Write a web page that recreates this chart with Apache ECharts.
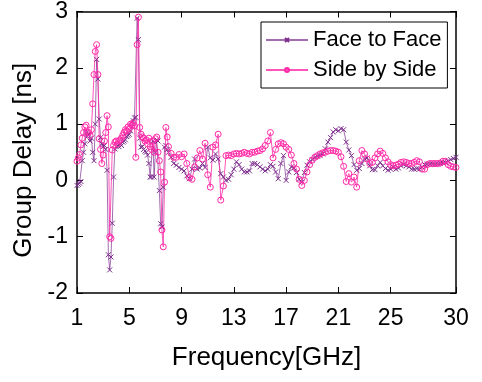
<!DOCTYPE html>
<html>
<head>
<meta charset="utf-8">
<script src="https://cdn.jsdelivr.net/npm/echarts@6/dist/echarts.min.js"></script>
<style>
  html, body { margin: 0; padding: 0; background: #fff; }
  #chart { width: 482px; height: 382px; }
</style>
</head>
<body>
<div id="chart"></div>
<script>
// frequency samples (GHz)
var freq = [1.0,1.1,1.2,1.3,1.4,1.5,1.6,1.7,1.8,1.9,2.0,2.1,2.2,2.3,2.4,2.5,2.6,2.7,2.8,2.9,
  3.0,3.1,3.2,3.3,3.4,3.5,3.6,3.7,3.8,3.9,4.0,4.1,4.2,4.3,4.4,4.5,4.6,4.7,4.8,4.9,
  5.0,5.1,5.2,5.3,5.4,5.5,5.6,5.7,5.8,5.9,6.0,6.1,6.2,6.3,6.4,6.5,6.6,6.7,6.8,6.9,
  7.0,7.1,7.2,7.3,7.4,7.5,7.6,7.7,7.8,7.9,8.0,
  8.2,8.4,8.6,8.8,9.0,9.2,9.4,9.6,9.8,10.0,10.2,10.4,10.6,10.8,11.0,11.2,11.4,11.6,11.8,12.0,
  12.2,12.4,12.6,12.8,13.0,13.2,13.4,13.6,13.8,14.0,14.2,14.4,14.6,14.8,15.0,15.2,15.4,15.6,15.8,16.0,
  16.2,16.4,16.6,16.8,17.0,17.2,17.4,17.6,17.8,18.0,18.2,18.4,18.6,18.8,19.0,19.2,19.4,19.6,19.8,20.0,
  20.2,20.4,20.6,20.8,21.0,21.2,21.4,21.6,21.8,22.0,22.2,22.4,22.6,22.8,23.0,23.2,23.4,23.6,23.8,24.0,
  24.2,24.4,24.6,24.8,25.0,25.2,25.4,25.6,25.8,26.0,26.2,26.4,26.6,26.8,27.0,27.2,27.4,27.6,27.8,28.0,
  28.2,28.4,28.6,28.8,29.0,29.2,29.4,29.6,29.8,30.0];

// group delay (ns) - face to face
var faceToFace = [-0.09,-0.07,-0.05,-0.02,0.35,0.5,0.65,0.85,0.78,0.82,0.7,0.75,0.5,0.35,1.0,2.15,1.8,1.09,0.76,0.65,
  0.6,0.62,0.55,0.18,-1.32,-1.59,-1.36,-0.76,0.06,0.56,0.6,0.62,0.6,0.65,0.62,0.68,0.7,0.72,0.78,0.8,
  0.82,0.88,0.95,1.06,1.11,1.12,2.88,2.5,0.75,0.59,0.6,0.55,0.52,0.5,0.45,0.3,0.06,0.06,0.7,0.06,
  0.5,0.72,0.7,-0.18,-0.77,-0.83,-0.12,0.59,0.62,0.55,0.5,
  0.41,0.3,0.27,0.23,0.2,0.17,0.08,0.03,0.2,0.38,0.2,0.22,0.3,0.23,0.59,0.4,0.36,0.47,0.38,0.12,
  0.06,0.0,0.02,0.1,0.2,0.33,0.28,0.2,0.15,0.15,0.17,0.3,0.3,0.28,0.24,0.2,0.17,0.2,0.28,0.25,
  0.15,0.03,0.3,0.44,0.0,0.15,0.24,0.22,0.14,0.02,-0.03,0.14,0.27,0.33,0.37,0.41,0.43,0.44,0.47,0.56,
  0.68,0.76,0.86,0.9,0.88,0.92,0.9,0.68,0.54,0.44,0.28,0.18,0.21,0.3,0.38,0.4,0.26,0.19,0.19,0.26,
  0.32,0.26,0.21,0.18,0.2,0.23,0.2,0.22,0.26,0.28,0.26,0.24,0.2,0.2,0.21,0.2,0.24,0.28,0.29,0.29,
  0.29,0.28,0.29,0.3,0.31,0.32,0.34,0.37,0.39,0.41];

// group delay (ns) - side by side
var sideBySide = [0.34,0.4,0.46,0.63,0.75,0.85,0.95,0.98,0.85,0.85,0.8,0.9,1.36,1.88,2.29,2.41,1.88,0.74,0.55,0.3,
  0.45,0.7,0.85,1.15,0.95,-1.0,-1.03,0.54,0.62,0.68,0.7,0.65,0.7,0.72,0.75,0.8,0.85,0.9,0.88,0.95,
  0.92,1.0,0.98,1.02,0.97,0.41,2.41,2.9,0.94,0.82,0.77,0.75,0.7,0.72,0.65,0.75,0.6,0.55,0.7,0.5,
  0.74,0.77,0.5,0.35,0.15,-0.88,-1.18,-0.03,0.94,0.77,0.6,
  0.48,0.41,0.41,0.46,0.42,0.47,0.3,0.05,0.02,0.24,0.4,0.53,0.38,0.66,0.1,-0.12,0.59,0.63,0.82,-0.35,
  -0.1,0.44,0.45,0.44,0.47,0.48,0.47,0.48,0.5,0.48,0.47,0.5,0.5,0.52,0.53,0.56,0.62,0.7,0.85,0.4,
  0.55,0.65,0.67,0.65,0.59,0.55,0.45,0.3,0.2,0.02,-0.09,0.0,0.15,0.28,0.36,0.41,0.44,0.47,0.49,0.5,
  0.52,0.53,0.53,0.52,0.5,0.42,0.25,-0.02,0.12,-0.03,0.06,-0.12,0.35,0.53,0.47,0.38,0.3,0.32,0.4,0.47,
  0.52,0.48,0.4,0.33,0.28,0.26,0.27,0.29,0.32,0.33,0.32,0.3,0.3,0.32,0.35,0.33,0.2,0.2,0.28,0.3,
  0.3,0.3,0.3,0.31,0.34,0.34,0.28,0.25,0.24,0.23];

var xTicks = [1, 5, 9, 13, 17, 21, 25, 30];

function pairs(ys) {
  return freq.map(function (f, i) { return [f, ys[i]]; });
}

var purple = '#7E2F8E';
var pink = '#FF2AA8';
var font = 'Liberation Sans, Arial, sans-serif';

var chart = echarts.init(document.getElementById('chart'));
chart.setOption({
  animation: false,
  backgroundColor: '#fff',
  grid: { left: 77, right: 26, top: 10, bottom: 89 },
  legend: {
    orient: 'vertical',
    left: 261,
    top: 22,
    padding: [7, 6, 7, 4],
    itemGap: 8,
    itemWidth: 42,
    itemHeight: 5,
    backgroundColor: '#fff',
    borderColor: '#000',
    borderWidth: 1,
    borderRadius: 0,
    textStyle: { fontFamily: font, fontSize: 22, color: '#000' },
    data: ['Face to Face', 'Side by Side']
  },
  xAxis: [{
    type: 'value',
    min: 1,
    max: 30,
    name: 'Frequency[GHz]',
    nameLocation: 'middle',
    nameGap: 52,
    nameTextStyle: { fontFamily: font, fontSize: 26, color: '#000' },
    axisLine: { onZero: false, lineStyle: { color: '#000', width: 1.5 } },
    axisTick: { inside: true, length: 6, customValues: xTicks, lineStyle: { color: '#000' } },
    axisLabel: { customValues: xTicks, margin: 14, fontFamily: font, fontSize: 23, color: '#000' },
    splitLine: { show: false }
  }, {
    type: 'value',
    position: 'top',
    min: 1,
    max: 30,
    axisLine: { onZero: false, lineStyle: { color: '#000', width: 1.5 } },
    axisTick: { inside: true, length: 6, customValues: xTicks, lineStyle: { color: '#000' } },
    axisLabel: { show: false },
    splitLine: { show: false }
  }],
  yAxis: [{
    type: 'value',
    min: -2,
    max: 3,
    interval: 1,
    name: 'Group Delay [ns]',
    nameLocation: 'middle',
    nameGap: 31,
    nameTextStyle: { fontFamily: font, fontSize: 26, color: '#000', padding: [0, 16, 0, 0] },
    axisLine: { show: true, onZero: false, lineStyle: { color: '#000', width: 1.5 } },
    axisTick: { show: true, inside: true, length: 6, lineStyle: { color: '#000' } },
    axisLabel: { margin: 9, fontFamily: font, fontSize: 23, color: '#000' },
    splitLine: { show: false }
  }, {
    type: 'value',
    position: 'right',
    min: -2,
    max: 3,
    interval: 1,
    axisLine: { show: true, onZero: false, lineStyle: { color: '#000', width: 1.5 } },
    axisTick: { show: true, inside: true, length: 6, lineStyle: { color: '#000' } },
    axisLabel: { show: false },
    splitLine: { show: false }
  }],
  series: [{
    name: 'Face to Face',
    type: 'line',
    data: pairs(faceToFace),
    color: purple,
    symbol: 'path://M0,0L10,10M10,0L0,10',
    symbolSize: 5,
    showAllSymbol: true,
    lineStyle: { color: 'rgba(126,47,142,0.7)', width: 1 },
    itemStyle: { color: 'none', borderColor: purple, borderWidth: 1 }
  }, {
    name: 'Side by Side',
    type: 'line',
    data: pairs(sideBySide),
    color: pink,
    symbol: 'circle',
    symbolSize: 6,
    showAllSymbol: true,
    lineStyle: { color: 'rgba(255,42,168,0.8)', width: 1 },
    itemStyle: { color: 'none', borderColor: pink, borderWidth: 1 }
  }]
});
</script>
</body>
</html>
